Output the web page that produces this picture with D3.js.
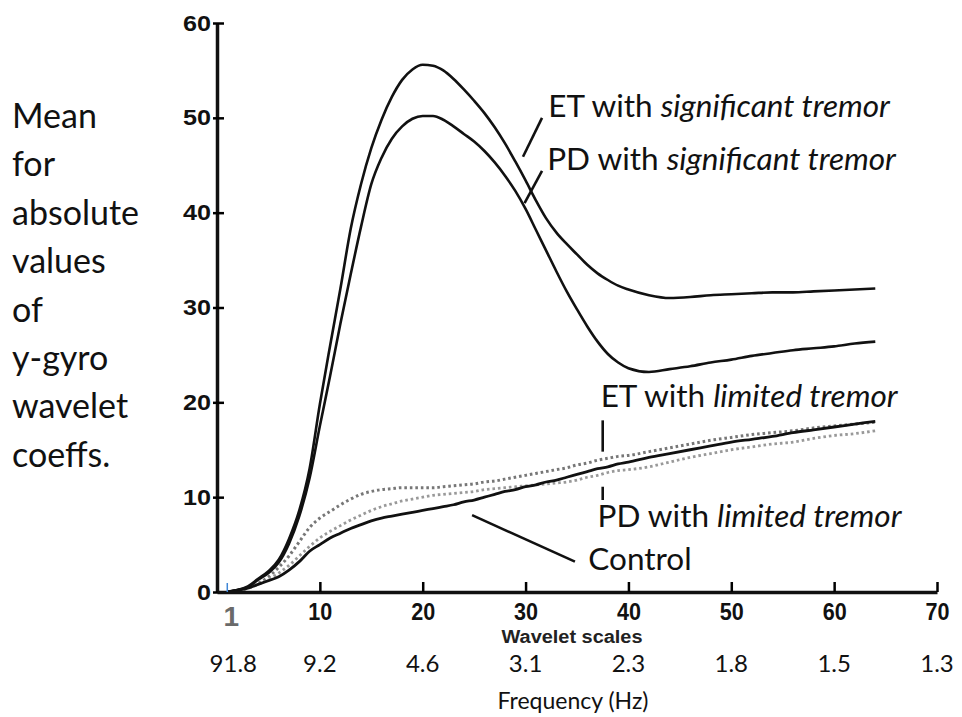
<!DOCTYPE html>
<html>
<head>
<meta charset="utf-8">
<script src="https://cdn.jsdelivr.net/npm/d3@7"></script>
<style>
  body { margin: 0; background: #fff; }
  svg { display: block; }
</style>
</head>
<body>
<div id="chart"></div>
<script>
// wavelet scale on the x axis, one value per scale for each group
var scales = [1,2,3,4,5,6,7,8,9,10,11,12,13,14,15,16,17,18,19,20,
  21,22,23,24,25,26,27,28,29,30,31,32,33,34,35,36,37,38,39,40,
  42,44,46,48,50,52,54,56,58,60,62,64];

var etSignificant = [0,0.2,0.6,1.4,2.2,3.4,5.6,8.6,13.0,19.8,26.0,32.0,38.3,43.0,46.8,49.8,52.2,54.0,55.1,55.6,
  55.5,55.0,54.1,53.0,51.8,50.5,49.0,47.3,45.4,43.4,41.3,39.4,37.9,36.7,35.6,34.5,33.6,32.9,32.3,31.9,
  31.3,31.0,31.1,31.3,31.4,31.5,31.6,31.6,31.7,31.8,31.9,32.0];

var pdSignificant = [0,0.2,0.5,1.3,2.0,3.1,5.1,8.0,12.0,17.5,22.8,28.3,33.5,38.5,43.0,45.8,47.8,49.1,49.9,50.2,
  50.2,49.8,49.1,48.3,47.5,46.5,45.3,43.9,42.3,40.4,38.2,36.0,33.8,31.7,29.8,28.0,26.4,25.1,24.2,23.6,
  23.2,23.5,23.8,24.2,24.5,24.9,25.2,25.5,25.7,25.9,26.2,26.4];

var etLimited = [0,0.15,0.4,0.9,1.6,2.6,3.8,5.3,6.8,7.8,8.5,9.2,9.8,10.3,10.6,10.8,10.9,11.0,11.0,11.0,
  11.0,11.1,11.2,11.3,11.4,11.6,11.7,11.9,12.1,12.3,12.5,12.7,12.9,13.1,13.4,13.6,13.9,14.1,14.3,14.4,
  14.8,15.2,15.6,16.0,16.3,16.6,16.8,17.0,17.3,17.5,17.7,17.9];

var pdLimited = [0,0.15,0.4,0.8,1.3,2.0,2.8,3.8,4.8,5.7,6.4,7.0,7.6,8.1,8.6,9.0,9.3,9.6,9.8,10.0,
  10.2,10.3,10.4,10.5,10.6,10.8,10.9,11.0,11.1,11.2,11.3,11.4,11.5,11.6,11.8,12.1,12.3,12.6,12.8,12.9,
  13.2,13.7,14.2,14.6,15.0,15.3,15.6,15.8,16.2,16.5,16.7,17.0];

var control = [0,0.2,0.4,0.8,1.2,1.6,2.3,3.2,4.3,5.0,5.7,6.2,6.7,7.1,7.5,7.8,8.0,8.2,8.4,8.6,
  8.8,9.0,9.2,9.5,9.7,10.0,10.3,10.6,10.8,11.1,11.3,11.6,11.8,12.1,12.4,12.7,13.0,13.2,13.5,13.7,
  14.2,14.6,15.0,15.4,15.8,16.1,16.4,16.8,17.1,17.4,17.7,18.0];

var xTicks = [10,20,30,40,50,60,70];
var yTicks = [0,10,20,30,40,50,60];
var freqLabels = ["91.8","9.2","4.6","3.1","2.3","1.8","1.5","1.3"];
var freqAt = [1,10,20,30,40,50,60,70];
var yTitle = ["Mean","for","absolute","values","of","y-gyro","wavelet","coeffs."];

var W = 962, H = 717;
var svg = d3.select("#chart").append("svg").attr("width", W).attr("height", H);

var x = d3.scaleLinear().domain([0, 70]).range([217, 937]);
var y = d3.scaleLinear().domain([0, 60]).range([592, 23]);

var line = d3.line()
  .x(function(d){ return x(d[0]); })
  .y(function(d){ return y(d[1]); })
  .curve(d3.curveMonotoneX);

function series(vals) {
  return scales.map(function(s, i){ return [s, vals[i]]; });
}

// dotted ones go under the solid curves
function drawCurve(vals, color, width, dash) {
  svg.append("path")
    .datum(series(vals))
    .attr("d", line)
    .attr("fill", "none")
    .attr("stroke", color)
    .attr("stroke-width", width)
    .attr("stroke-dasharray", dash || null)
    .attr("stroke-linejoin", "round");
}
drawCurve(etLimited, "#777", 3, "2.6,2.9");
drawCurve(pdLimited, "#999", 2.8, "2.6,2.9");
drawCurve(control, "#111", 2.8);
drawCurve(pdSignificant, "#111", 2.6);
drawCurve(etSignificant, "#111", 2.6);

// axes
var yAxis = svg.append("g")
  .attr("transform", "translate(" + x(0) + ",0)")
  .call(d3.axisLeft(y).tickValues(yTicks).tickSizeInner(-7).tickSizeOuter(0).tickPadding(6));
yAxis.selectAll(".tick line").attr("x1", -4).attr("stroke-width", 2.5);
yAxis.selectAll("text")
  .attr("font-family", "Liberation Sans, Arial, sans-serif")
  .attr("font-weight", "bold")
  .attr("font-size", 22)
  .attr("fill", "#111")
  .attr("textLength", function(d){ return String(d).length * 14; })
  .attr("lengthAdjust", "spacingAndGlyphs");

var xAxis = svg.append("g")
  .attr("transform", "translate(0," + y(0) + ")")
  .call(d3.axisBottom(x).tickValues(xTicks).tickSizeInner(-10).tickSizeOuter(0).tickPadding(11));
xAxis.selectAll(".tick line").attr("stroke-width", 2.5);
xAxis.selectAll("text")
  .attr("font-family", "Liberation Sans, Arial, sans-serif")
  .attr("font-weight", "bold")
  .attr("font-size", 24)
  .attr("fill", "#111")
  .attr("textLength", 24)
  .attr("lengthAdjust", "spacingAndGlyphs");

svg.selectAll(".domain").attr("stroke", "#111").attr("stroke-width", 3.5);

// the first scale, marked apart
svg.append("line")
  .attr("x1", x(1)).attr("x2", x(1))
  .attr("y1", y(0) - 9).attr("y2", y(0))
  .attr("stroke", "#3f86d6").attr("stroke-width", 1.5);
svg.append("text")
  .attr("x", x(1) + 4).attr("y", 626)
  .attr("text-anchor", "middle")
  .attr("font-family", "Liberation Sans, Arial, sans-serif")
  .attr("font-weight", "bold")
  .attr("font-size", 28)
  .attr("fill", "#6a6a6a")
  .text("1");

svg.append("text")
  .attr("x", 572).attr("y", 643)
  .attr("text-anchor", "middle")
  .attr("font-family", "Liberation Sans, Arial, sans-serif")
  .attr("font-weight", "bold")
  .attr("font-size", 18)
  .attr("fill", "#222")
  .attr("textLength", 141)
  .attr("lengthAdjust", "spacingAndGlyphs")
  .text("Wavelet scales");

svg.selectAll(".freq")
  .data(freqLabels)
  .enter().append("text")
  .attr("class", "freq")
  .attr("x", function(d, i){ return x(freqAt[i]) + (i == 0 ? 6 : 0); })
  .attr("y", 672)
  .attr("text-anchor", "middle")
  .attr("font-family", "Lato, sans-serif")
  .attr("font-size", 24)
  .attr("fill", "#111")
  .text(function(d){ return d; });

svg.append("text")
  .attr("x", 573).attr("y", 709)
  .attr("text-anchor", "middle")
  .attr("font-family", "Lato, sans-serif")
  .attr("font-size", 23)
  .attr("fill", "#111")
  .text("Frequency (Hz)");

// y title, one word per line
svg.append("g").selectAll("text")
  .data(yTitle)
  .enter().append("text")
  .attr("x", 12)
  .attr("y", function(d, i){ return 128 + i * 48.4; })
  .attr("font-family", "Lato, sans-serif")
  .attr("font-size", 34)
  .attr("fill", "#111")
  .text(function(d){ return d; });

// curve labels with their pointer lines (data coordinates)
var notes = [
  {head: "ET with ", tail: "significant tremor", tx: 32.2, ty: 50.1, p: [[29.75, 45.9], [31.6, 50.0]]},
  {head: "PD with ", tail: "significant tremor", tx: 32.1, ty: 44.5, p: [[29.9, 41.0], [31.6, 44.4]]},
  {head: "ET with ", tail: "limited tremor", tx: 37.3, ty: 19.5, p: [[37.5, 18.1], [37.5, 14.8]]},
  {head: "PD with ", tail: "limited tremor", tx: 37.0, ty: 6.85, p: [[37.5, 11.1], [37.5, 9.7]]},
  {head: "Control", tail: "", tx: 36.1, ty: 2.3, p: [[24.8, 8.1], [34.8, 3.2]]}
];

notes.forEach(function(n) {
  svg.append("line")
    .attr("x1", x(n.p[0][0])).attr("y1", y(n.p[0][1]))
    .attr("x2", x(n.p[1][0])).attr("y2", y(n.p[1][1]))
    .attr("stroke", "#111").attr("stroke-width", 2.6);
  var t = svg.append("text")
    .attr("x", x(n.tx)).attr("y", y(n.ty))
    .attr("font-family", "Lato, sans-serif")
    .attr("font-size", 31.5)
    .attr("fill", "#111");
  t.append("tspan").text(n.head);
  if (n.tail) t.append("tspan").attr("font-style", "italic").text(n.tail);
});
</script>
</body>
</html>
